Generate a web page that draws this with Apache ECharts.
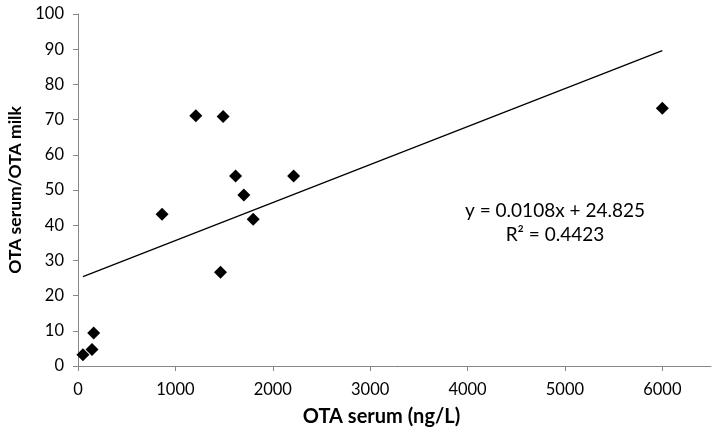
<!DOCTYPE html>
<html><head><meta charset="utf-8">
<script src="https://cdn.jsdelivr.net/npm/echarts@6/dist/echarts.min.js"></script>
<style>html,body{margin:0;padding:0;background:#fff}#c{width:717px;height:434px}</style>
</head><body><div id="c"></div>
<script>
const serumX = [51, 144, 161, 863, 1210, 1490, 1463, 1618, 1703, 1799, 2214, 6000];
const ratioY = [3.2, 4.7, 9.4, 43.1, 71.1, 70.9, 26.6, 54.0, 48.6, 41.7, 54.0, 73.2];
const slope = 0.0108, intercept = 24.825;
const xTicks = [0, 1000, 2000, 3000, 4000, 5000, 6000];
const eqText = 'y = 0.0108x + 24.825';
const r2Text = 'R² = 0.4423';

const pts = serumX.map((x, i) => [x, ratioY[i]]);
const xmin = Math.min(...serumX), xmax = Math.max(...serumX);
const trend = [[xmin, slope * xmin + intercept], [xmax, slope * xmax + intercept]];
const font = 'Lato, "Open Sans", sans-serif';
const chart = echarts.init(document.getElementById('c'));
chart.setOption({
  animation: false,
  grid: {left: 78, right: 6, top: 14, bottom: 68, containLabel: false, outerBoundsMode: 'none'},
  xAxis: {
    type: 'value', min: 0, max: 6500, interval: 1000,
    name: 'OTA serum (ng/L)', nameLocation: 'middle', nameGap: 41,
    nameTextStyle: {fontFamily: font, fontWeight: 'bold', fontSize: 20, color: '#000', padding: [0, 26, 0, 0]},
    axisLine: {show: true, lineStyle: {color: '#868686', width: 1}},
    axisTick: {show: true, length: 5, lineStyle: {color: '#868686'}, customValues: xTicks},
    axisLabel: {fontFamily: font, fontSize: 16.5, color: '#000', margin: 15, customValues: xTicks, formatter: v => String(v)},
    splitLine: {show: false}
  },
  yAxis: {
    type: 'value', min: 0, max: 100, interval: 10,
    name: 'OTA serum/OTA milk', nameLocation: 'middle', nameGap: 52,
    nameTextStyle: {fontFamily: font, fontWeight: 'bold', fontSize: 17.5, color: '#000'},
    axisLine: {show: true, lineStyle: {color: '#868686', width: 1}},
    axisTick: {show: true, length: 5, lineStyle: {color: '#868686'}},
    axisLabel: {fontFamily: font, fontSize: 16.5, color: '#000', margin: 14, formatter: v => String(v)},
    splitLine: {show: false}
  },
  series: [
    {type: 'line', data: trend, symbol: 'none', lineStyle: {color: '#000', width: 1.3}, z: 2},
    {type: 'scatter', data: pts, symbol: 'diamond', symbolSize: 13, itemStyle: {color: '#000', opacity: 1}, z: 3}
  ],
  graphic: [
    {type: 'text', x: 555, y: 211, style: {text: eqText, fontFamily: font, fontSize: 19, fill: '#000', align: 'center', verticalAlign: 'middle'}},
    {type: 'text', x: 555, y: 235, style: {text: r2Text, fontFamily: font, fontSize: 19, fill: '#000', align: 'center', verticalAlign: 'middle'}}
  ]
});
</script></body></html>
